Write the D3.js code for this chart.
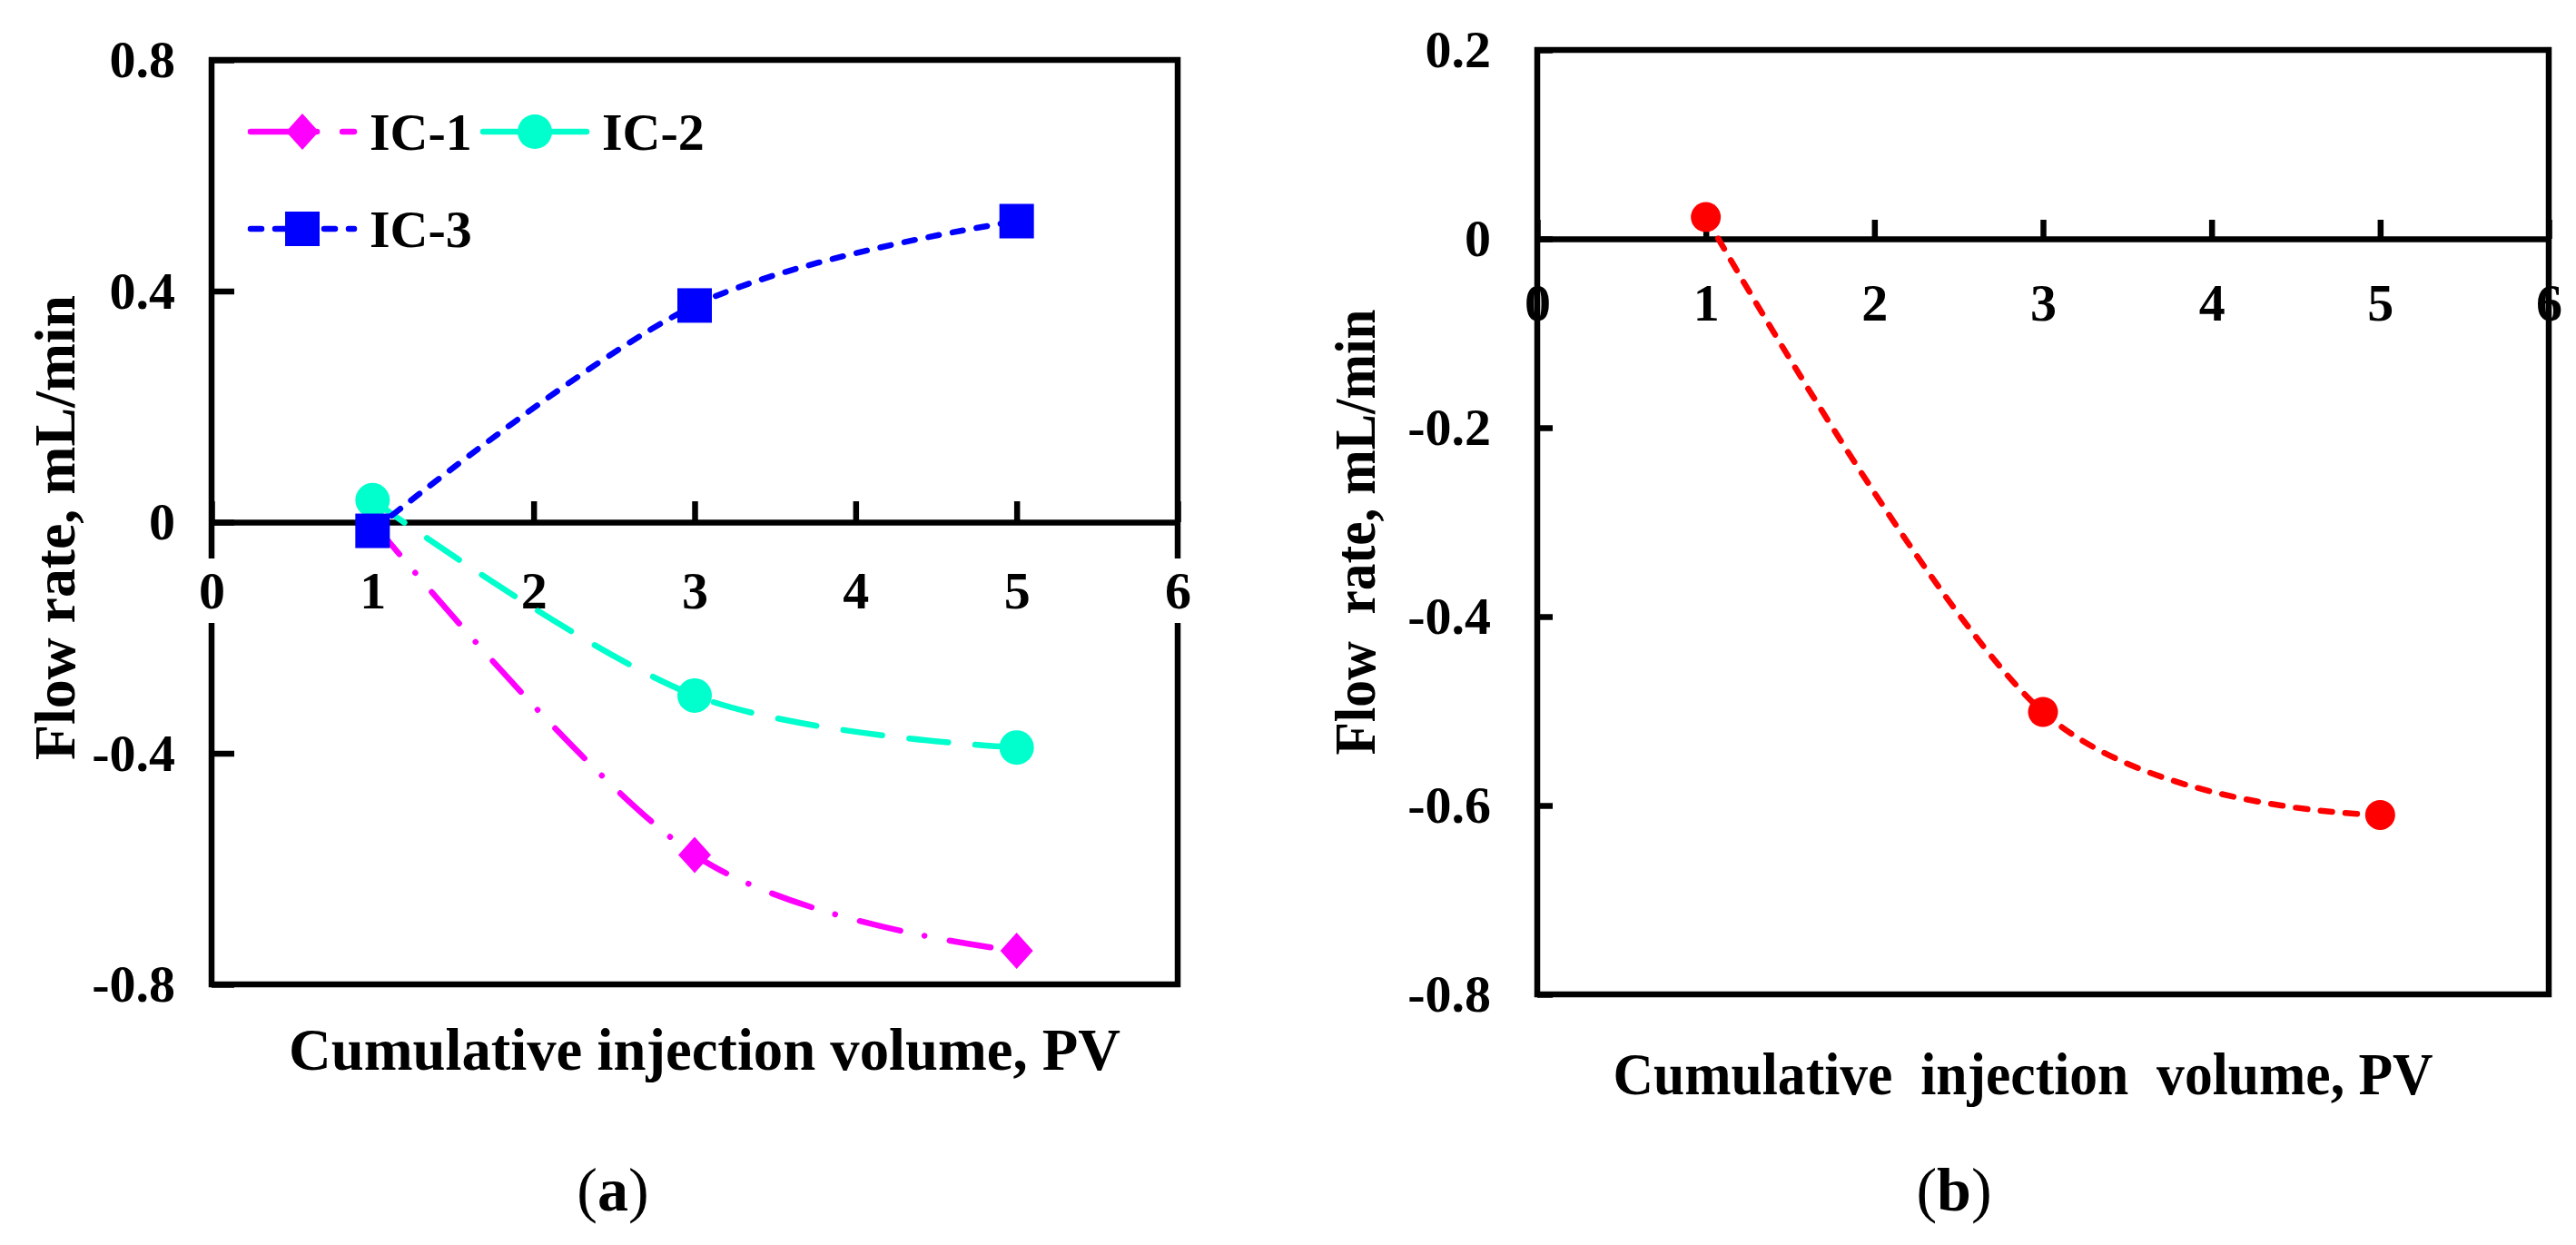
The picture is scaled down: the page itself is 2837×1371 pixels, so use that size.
<!DOCTYPE html>
<meta charset="utf-8">
<style>
body { margin: 0; background: #fff; }
text { font-family: 'Liberation Serif', 'Times New Roman', Times, serif; font-weight: bold; }
</style>
<script src="https://d3js.org/d3.v7.min.js"></script>
<div id="chart"></div>
<script>
// values
var pv = [1, 3, 5];
var ic1 = [0.0, -0.576, -0.742];
var ic2 = [0.038, -0.300, -0.390];
var ic3 = [-0.015, 0.375, 0.521];
var flowB = [0.023, -0.501, -0.610];
var seriesNames = ["IC-1", "IC-2", "IC-3"];
var xTicks = [0, 1, 2, 3, 4, 5, 6];
var yTicksA = [-0.8, -0.4, 0, 0.4, 0.8];
var yTicksB = [-0.8, -0.6, -0.4, -0.2, 0, 0.2];
var xTitleA = "Cumulative injection volume, PV";
var yTitleA = "Flow rate, mL/min";
var xTitleB = "Cumulative  injection  volume, PV";
var yTitleB = "Flow  rate, mL/min";

var W = 2837, H = 1371;
var svg = d3.select("#chart").append("svg")
    .attr("width", W)
    .attr("height", H);
svg.append("rect").attr("width", W).attr("height", H).attr("fill", "#fff");

// Excel-like smoothed line
var smooth = d3.line().curve(d3.curveCardinal.tension(0));

function drawMarker(sel, type, color, size) {
  if (type === "circle") {
    sel.append("circle").attr("r", size).attr("fill", color);
  } else if (type === "square") {
    sel.append("rect").attr("x", -size).attr("y", -size)
      .attr("width", 2 * size).attr("height", 2 * size).attr("fill", color);
  } else {
    sel.append("path")
      .attr("d", "M0," + (-size - 1) + "L" + (size - 1) + ",0L0," + (size + 1) + "L" + (-size + 1) + ",0Z")
      .attr("fill", color);
  }
}

function drawPanel(p) {
  var x = d3.scaleLinear().domain([0, 6]).range([p.left, p.right]);
  var y = d3.scaleLinear().domain(p.yDomain).range([p.bottom, p.top]);
  var g = svg.append("g");

  // frame
  g.append("rect")
    .attr("x", p.left).attr("y", p.top)
    .attr("width", p.right - p.left).attr("height", p.bottom - p.top)
    .attr("fill", "none").attr("stroke", "#000").attr("stroke-width", 6.5);

  // x axis crossing at zero, ticks point up
  var xa = g.append("g")
    .attr("transform", "translate(0," + y(0) + ")")
    .call(d3.axisBottom(x).tickValues(xTicks).tickFormat(String)
      .tickSizeInner(-p.xTick).tickSizeOuter(0).tickPadding(p.xPad));

  if (p.labelBg) {
    xa.selectAll(".tick").filter(function(d) { return d === 0 || d === 6; })
      .insert("rect", "text")
      .attr("x", -22).attr("y", 40).attr("width", 44).attr("height", 71)
      .attr("fill", "#fff");
  }

  // y axis, ticks point inward
  var ya = g.append("g")
    .attr("transform", "translate(" + p.left + ",0)")
    .call(d3.axisLeft(y).tickValues(p.yTicks).tickFormat(String)
      .tickSizeInner(-p.yTick).tickSizeOuter(0).tickPadding(p.yPad));
  ya.select(".domain").remove();

  [xa, ya].forEach(function(a) {
    a.attr("font-size", 58).attr("font-family", null);
    a.selectAll("line, path").attr("stroke", "#000").attr("stroke-width", 6.5);
    a.selectAll("text").attr("fill", "#000");
  });

  // axis titles
  g.append("text")
    .attr("x", p.xTitleX).attr("y", p.xTitleY)
    .attr("text-anchor", "middle")
    .attr("font-size", 65)
    .style("white-space", "pre")
    .attr("textLength", p.xTitleLen).attr("lengthAdjust", "spacingAndGlyphs")
    .text(p.xTitle);

  g.append("text")
    .attr("transform", "translate(" + p.yTitleX + "," + p.yTitleY + ") rotate(-90)")
    .attr("text-anchor", "middle")
    .attr("font-size", 64)
    .style("white-space", "pre")
    .attr("textLength", p.yTitleLen).attr("lengthAdjust", "spacingAndGlyphs")
    .text(p.yTitle);

  // panel letter
  var lab = g.append("text")
    .attr("x", p.labelX).attr("y", 1333)
    .attr("text-anchor", "middle")
    .attr("font-size", 68)
    .style("font-weight", "normal");
  lab.append("tspan").text("(");
  lab.append("tspan").style("font-weight", "bold").text(p.label);
  lab.append("tspan").text(")");

  // series
  p.series.forEach(function(s) {
    var pts = pv.map(function(v, i) { return [x(v), y(s.values[i])]; });
    g.append("path")
      .attr("d", smooth(pts))
      .attr("fill", "none")
      .attr("stroke", s.color)
      .attr("stroke-width", 6.5)
      .attr("stroke-linecap", "round")
      .attr("stroke-dasharray", s.dash);
    g.selectAll(null)
      .data(pts)
      .enter()
      .append("g")
        .attr("transform", function(d) { return "translate(" + d[0] + "," + d[1] + ")"; })
        .each(function() { drawMarker(d3.select(this), s.marker, s.color, s.size); });
  });

  return g;
}

var seriesA = [
  {name: seriesNames[0], values: ic1, color: "#ff00ff", dash: "46,27,0.1,28", marker: "diamond", size: 19},
  {name: seriesNames[1], values: ic2, color: "#00ffcc", dash: "43,30", marker: "circle", size: 19},
  {name: seriesNames[2], values: ic3, color: "#0000ff", dash: "12,15", marker: "square", size: 19}
];

var gA = drawPanel({
  left: 233, right: 1297, top: 66, bottom: 1084,
  yDomain: [-0.8, 0.8], yTicks: yTicksA,
  xTick: 23, xPad: 54, yTick: 25, yPad: 40, labelBg: true,
  xTitle: xTitleA, xTitleX: 776, xTitleY: 1178, xTitleLen: 916,
  yTitle: yTitleA, yTitleX: 82, yTitleY: 581, yTitleLen: 512,
  labelX: 675, label: "a",
  series: seriesA
});

drawPanel({
  left: 1693, right: 2807, top: 55, bottom: 1095,
  yDomain: [-0.8, 0.2], yTicks: yTicksB,
  xTick: 21, xPad: 49, yTick: 17, yPad: 51, labelBg: false,
  xTitle: xTitleB, xTitleX: 2228, xTitleY: 1205, xTitleLen: 903,
  yTitle: yTitleB, yTitleX: 1514, yTitleY: 586, yTitleLen: 491,
  labelX: 2152, label: "b",
  series: [{name: "", values: flowB, color: "#ff0000", dash: "13,14.5", marker: "circle", size: 16.5}]
});

// legend of panel (a)
var legendPos = [
  {x: 276, y: 145},
  {x: 532, y: 145},
  {x: 276, y: 252}
];
var legend = gA.append("g");
seriesA.forEach(function(s, i) {
  var lp = legendPos[i];
  var item = legend.append("g").attr("transform", "translate(" + lp.x + "," + lp.y + ")");
  item.append("path")
    .attr("d", d3.line()([[0, 0], [114, 0]]))
    .attr("stroke", s.color)
    .attr("stroke-width", 6.5)
    .attr("stroke-linecap", "round")
    .attr("stroke-dasharray", s.dash);
  drawMarker(item.append("g").attr("transform", "translate(57,0)"), s.marker, s.color, s.size);
  item.append("text")
    .attr("x", 131).attr("y", 0).attr("dy", "0.34em")
    .attr("font-size", 58)
    .text(s.name);
});
</script>
